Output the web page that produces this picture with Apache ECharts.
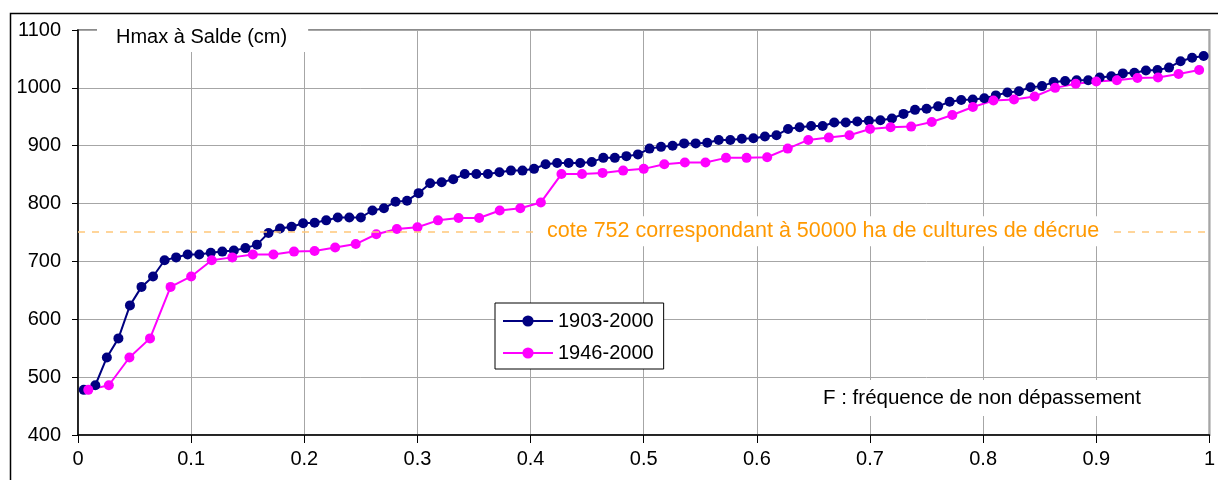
<!DOCTYPE html>
<html><head><meta charset="utf-8">
<script src="https://cdn.jsdelivr.net/npm/echarts@6/dist/echarts.min.js"></script>
<style>html,body{margin:0;padding:0;background:#fff}#c{width:1218px;height:480px}</style>
</head><body><div id="c"></div>
<script>
// Sorted annual maxima (cm) — ranked values
const SERIES_NAMES = ['1903-2000', '1946-2000'];
const hmax1903 = [478,486,534,567,624,656,674,702,707,712,
  712,715,717,719,723,729,749,757,760,766,
  767,771,776,776,776,788,792,803,805,818,
  835,837,842,851,851,851,854,857,857,860,
  868,870,870,870,872,879,879,882,885,895,
  898,900,904,904,905,910,910,912,913,916,
  918,929,932,934,934,940,940,942,943,944,
  947,955,962,964,968,976,979,980,982,987,
  992,994,1001,1003,1010,1012,1013,1013,1018,1020,
  1025,1026,1030,1031,1035,1046,1052,1055];
const hmax1946 = [478,486,534,567,656,674,702,707,712,712,
  717,718,724,730,747,756,759,771,775,775,
  788,792,802,851,851,853,857,860,868,871,
  871,879,879,880,895,910,914,918,929,932,
  933,941,953,967,978,980,985,1000,1007,1011,
  1013,1017,1018,1024,1031];
const thresholdLevel = 752;
const thresholdLabel = 'cote 752 correspondant à 50000 ha de cultures de décrue';
const thresholdLabelF = 0.6586;
const yTitle = 'Hmax à Salde (cm)';
const xTitle = 'F : fréquence de non dépassement';

// Non-exceedance frequency of rank i among n sorted values (Hazen)
function withFreq(vals){ const n = vals.length; return vals.map((v,i)=>[(i+0.5)/n, v]); }

const FONT = '"Liberation Sans", Arial, sans-serif';
const chart = echarts.init(document.getElementById('c'), null, {renderer:'canvas'});
chart.setOption({
  animation:false,
  backgroundColor:'#fff',
  grid:{left:78, right:5, top:30, bottom:45, show:true, borderColor:'#8c8c8c', borderWidth:2, backgroundColor:'transparent'},
  xAxis:{type:'value', min:0, max:1, interval:0.1,
    axisLine:{show:true, onZero:false, lineStyle:{color:'#000', width:1.5}},
    axisTick:{show:true, length:8, lineStyle:{color:'#000'}},
    axisLabel:{color:'#000', fontFamily:FONT, fontSize:20, margin:14,
      formatter:v=> (v===0?'0':(Math.abs(v-1)<1e-9?'1':v.toFixed(1)))},
    splitLine:{show:true, lineStyle:{color:'#a6a6a6', width:1}}},
  yAxis:{type:'value', min:400, max:1100, interval:100,
    axisLine:{show:true, onZero:false, lineStyle:{color:'#000', width:1.5}},
    axisTick:{show:true, length:6, lineStyle:{color:'#000'}},
    axisLabel:{color:'#000', fontFamily:FONT, fontSize:20, margin:17, formatter:v=>String(Math.round(v))},
    splitLine:{show:true, lineStyle:{color:'#a6a6a6', width:1}}},
  legend:{orient:'vertical', left:495, top:303, data:SERIES_NAMES,
    backgroundColor:'#fff', borderColor:'#000', borderWidth:1,
    padding:[8,10,6,7], itemWidth:50, itemHeight:14, itemGap:12,
    textStyle:{color:'#000', fontFamily:FONT, fontSize:20, lineHeight:20, padding:[0,0,0,0]}},
  series:[
    {name:SERIES_NAMES[0], type:'line', data:withFreq(hmax1903), symbol:'circle', symbolSize:10,
      itemStyle:{color:'#000080'}, lineStyle:{color:'#000080', width:2},
      markLine:{silent:true, symbol:'none', label:{show:false},
        lineStyle:{color:'#ffc879', type:[7,7], width:1.5},
        data:[{yAxis:thresholdLevel}]},
      markPoint:{silent:true, symbol:'circle', symbolSize:1, itemStyle:{color:'rgba(0,0,0,0)'},
        label:{show:true, position:'inside', formatter:thresholdLabel, color:'#ff9900',
          fontFamily:FONT, fontSize:21.5, backgroundColor:'#fff', padding:[4,13]},
        data:[{coord:[thresholdLabelF, thresholdLevel]}]}},
    {name:SERIES_NAMES[1], type:'line', data:withFreq(hmax1946), symbol:'circle', symbolSize:10,
      itemStyle:{color:'#ff00ff'}, lineStyle:{color:'#ff00ff', width:2}}
  ],
  graphic:[
    {type:'rect', left:8, top:11, shape:{width:1300, height:600}, z:100,
      style:{fill:'none', stroke:'#000', lineWidth:1.5}},
    {type:'text', left:97, top:22, z:50,
      style:{text:yTitle, fill:'#000', font:'20px '+FONT, backgroundColor:'#fff',
        padding:[5,21,5,19], lineHeight:20}},
    {type:'text', left:815, top:380, z:50,
      style:{text:xTitle, fill:'#000', font:'20.5px '+FONT, backgroundColor:'#fff',
        padding:[8,8,8,8], lineHeight:20}}
  ]
});
</script></body></html>
